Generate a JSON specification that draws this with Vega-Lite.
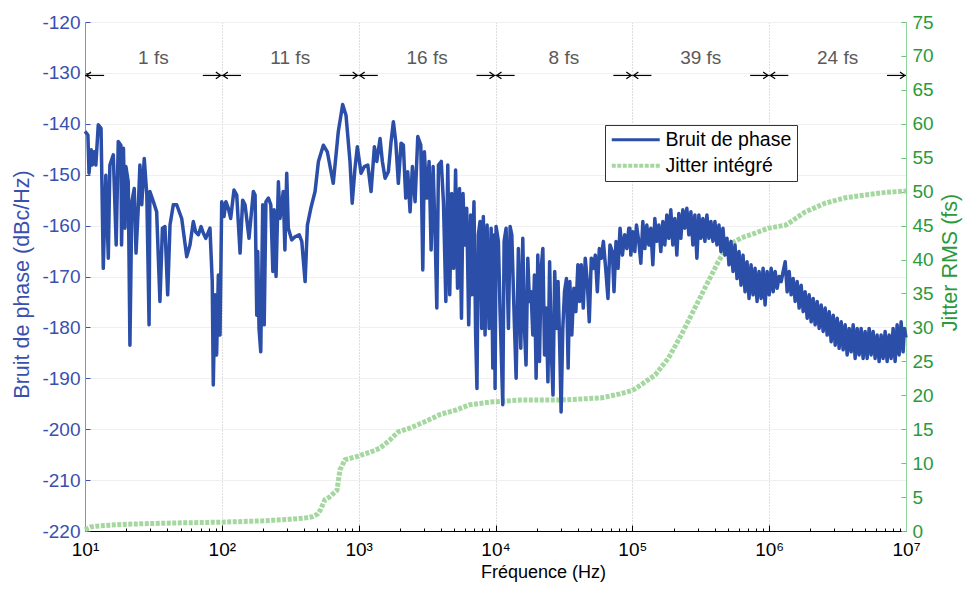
{
  "$schema": "https://vega.github.io/schema/vega-lite/v6.json",
  "width": 821,
  "height": 509,
  "autosize": {"type": "none"},
  "padding": {"left": 85, "top": 22, "right": 57, "bottom": 59},
  "background": "white",
  "config": {
    "font": "Liberation Sans",
    "view": {"stroke": null},
    "axis": {"titleFontWeight": "normal", "labelFontSize": 19, "titleFontSize": 21.5}
  },
  "datasets": {
    "bruit": [
      {"f":10,"v":-141.5},{"f":10.5,"v":-142.2},{"f":10.7,"v":-149.7},{"f":11.1,"v":-145.1},{"f":11.3,"v":-148.1},{"f":11.7,"v":-145.5},{"f":12.0,"v":-148.1},{"f":12.5,"v":-140.2},{"f":13.1,"v":-140.9},{"f":13.6,"v":-168.4},{"f":14.2,"v":-150.1},{"f":14.8,"v":-166.4},{"f":15.2,"v":-148.1},{"f":16.1,"v":-146.1},{"f":16.9,"v":-163.8},{"f":17.5,"v":-143.5},{"f":18.3,"v":-144.2},{"f":18.5,"v":-163.8},{"f":19.1,"v":-144.8},{"f":19.6,"v":-160.5},{"f":19.9,"v":-148.4},{"f":20.7,"v":-151.4},{"f":21.3,"v":-183.5},{"f":22.0,"v":-155.3},{"f":22.9,"v":-152.7},{"f":23.6,"v":-165.4},{"f":24.5,"v":-156.6},{"f":25.2,"v":-148.1},{"f":26.0,"v":-155.9},{"f":27.1,"v":-146.8},{"f":28.3,"v":-154.0},{"f":29.4,"v":-179.5},{"f":29.8,"v":-153.3},{"f":31.6,"v":-155.3},{"f":33.4,"v":-157.3},{"f":35.3,"v":-174.9},{"f":36.8,"v":-160.5},{"f":38.4,"v":-160.2},{"f":40.2,"v":-173.6},{"f":41.8,"v":-159.9},{"f":44.2,"v":-155.9},{"f":46.8,"v":-155.9},{"f":50.9,"v":-158.6},{"f":55.4,"v":-166.1},{"f":58.5,"v":-163.8},{"f":61.9,"v":-159.2},{"f":64.3,"v":-161.2},{"f":67.4,"v":-161.8},{"f":70.5,"v":-160.2},{"f":73.3,"v":-161.5},{"f":76.3,"v":-162.5},{"f":81.9,"v":-160.5},{"f":85.1,"v":-171.0},{"f":86.6,"v":-191.3},{"f":89.1,"v":-173.6},{"f":91.6,"v":-185.4},{"f":94.3,"v":-169.7},{"f":97,"v":-181.5},{"f":99.8,"v":-155.3},
      {"f":101.5,"v":-155.9},{"f":103.8,"v":-158.2},{"f":107,"v":-155.3},{"f":111.6,"v":-156.6},{"f":116,"v":-158.6},{"f":122.7,"v":-153.0},{"f":128.5,"v":-154.0},{"f":135.9,"v":-165.4},{"f":142,"v":-155.0},{"f":147.8,"v":-155.9},{"f":158,"v":-162.5},{"f":170,"v":-153.3},{"f":175,"v":-154.0},{"f":180,"v":-177.6},{"f":183,"v":-165.1},{"f":187,"v":-180.2},{"f":192.5,"v":-184.8},{"f":199,"v":-155.9},{"f":204,"v":-179.5},{"f":210,"v":-155.3},{"f":219,"v":-154.6},{"f":228,"v":-155.9},{"f":236,"v":-169.0},{"f":241,"v":-156.9},{"f":249,"v":-170.0},{"f":259,"v":-151.4},{"f":266,"v":-158.6},{"f":274,"v":-155.9},{"f":281,"v":-153.3},{"f":289,"v":-164.8},{"f":298,"v":-149.7},{"f":306,"v":-160.5},{"f":324,"v":-162.8},{"f":343,"v":-162.2},{"f":368,"v":-161.8},{"f":384,"v":-163.1},{"f":406,"v":-171.0},{"f":422,"v":-159.9},{"f":447,"v":-156.6},{"f":480,"v":-153.3},{"f":508,"v":-147.4},{"f":552,"v":-144.2},{"f":590,"v":-145.5},{"f":652,"v":-151.7},{"f":710,"v":-141.5},{"f":764,"v":-136.2},{"f":808,"v":-138.3},{"f":864,"v":-147.4},{"f":897,"v":-155.6},{"f":940,"v":-148.7},{"f":978,"v":-144.5},
      {"f":1041,"v":-149.7},{"f":1100,"v":-148.4},{"f":1166,"v":-148.1},{"f":1232,"v":-153.3},{"f":1303,"v":-144.5},{"f":1356,"v":-147.4},{"f":1434,"v":-142.9},{"f":1490,"v":-147.4},{"f":1560,"v":-150.7},{"f":1649,"v":-149.4},{"f":1725,"v":-143.5},{"f":1793,"v":-139.6},{"f":1867,"v":-143.5},{"f":1950,"v":-151.7},{"f":2041,"v":-143.8},{"f":2121,"v":-144.2},{"f":2208,"v":-154.6},{"f":2283,"v":-149.4},{"f":2375,"v":-157.3},{"f":2470,"v":-148.4},{"f":2584,"v":-155.3},{"f":2704,"v":-142.5},{"f":2845,"v":-144.2},{"f":2942,"v":-168.7},{"f":3022,"v":-145.5},{"f":3146,"v":-154.6},{"f":3271,"v":-147.4},{"f":3384,"v":-164.8},{"f":3500,"v":-148.4},{"f":3621,"v":-161.8},{"f":3725,"v":-176.2},{"f":3830,"v":-148.1},{"f":4012,"v":-147.4},{"f":4168,"v":-155.6},{"f":4336,"v":-174.9},{"f":4480,"v":-148.1},{"f":4630,"v":-173.6},{"f":4784,"v":-153.7},{"f":4943,"v":-168.4},{"f":5110,"v":-149.1},{"f":5281,"v":-172.3},{"f":5457,"v":-152.7},{"f":5640,"v":-178.2},{"f":5790,"v":-153.7},{"f":5960,"v":-163.8},{"f":6160,"v":-156.6},{"f":6370,"v":-179.5},{"f":6580,"v":-157.9},{"f":6730,"v":-173.6},{"f":6960,"v":-155.3},{"f":7160,"v":-181.5},{"f":7320,"v":-192.0},{"f":7490,"v":-161.8},{"f":7710,"v":-159.2},{"f":7930,"v":-180.2},{"f":8150,"v":-158.2},{"f":8390,"v":-181.5},{"f":8680,"v":-159.9},{"f":8980,"v":-180.2},{"f":9290,"v":-160.5},{"f":9560,"v":-188.0},{"f":9820,"v":-161.8},
      {"f":9930,"v":-192.0},{"f":10100,"v":-160.2},{"f":10500,"v":-163.1},{"f":10800,"v":-176.9},{"f":11300,"v":-195.2},{"f":11560,"v":-163.1},{"f":11950,"v":-160.5},{"f":12430,"v":-180.2},{"f":12790,"v":-160.2},{"f":13160,"v":-161.8},{"f":13680,"v":-177.6},{"f":14150,"v":-190.0},{"f":14700,"v":-164.5},{"f":15300,"v":-184.1},{"f":15830,"v":-162.5},{"f":16270,"v":-180.2},{"f":16720,"v":-187.4},{"f":17220,"v":-166.4},{"f":17700,"v":-174.9},{"f":18200,"v":-173.0},{"f":18730,"v":-181.5},{"f":19250,"v":-169.7},{"f":19810,"v":-190.0},{"f":20380,"v":-165.8},{"f":20960,"v":-186.7},{"f":21560,"v":-168.4},{"f":22190,"v":-164.5},{"f":22830,"v":-185.4},{"f":23490,"v":-176.2},{"f":24160,"v":-190.7},{"f":24860,"v":-167.1},{"f":25580,"v":-184.8},{"f":26320,"v":-193.3},{"f":27080,"v":-169.0},{"f":27860,"v":-180.2},{"f":28660,"v":-171.0},{"f":29490,"v":-184.1},{"f":30160,"v":-196.6},{"f":31030,"v":-180.2},{"f":31930,"v":-173.0},{"f":33000,"v":-170.4},{"f":33950,"v":-188.0},{"f":34930,"v":-171.0},{"f":36120,"v":-181.5},{"f":37370,"v":-172.3},{"f":38670,"v":-176.9},{"f":40000,"v":-167.7},{"f":41140,"v":-174.9},{"f":42320,"v":-167.7},{"f":43780,"v":-176.2},{"f":45280,"v":-166.4},{"f":46840,"v":-171.0},{"f":48450,"v":-178.9},{"f":50120,"v":-166.4},{"f":51850,"v":-168.4},{"f":53640,"v":-165.8},{"f":55490,"v":-173.0},{"f":57400,"v":-164.5},{"f":59380,"v":-166.4},{"f":61430,"v":-163.1},{"f":63840,"v":-168.4},{"f":66350,"v":-174.3},{"f":68630,"v":-163.8},{"f":71430,"v":-165.1},{"f":73470,"v":-173.0},{"f":76000,"v":-163.1},{"f":78630,"v":-168.4},{"f":81330,"v":-160.5},{"f":84670,"v":-165.8},{"f":87960,"v":-161.8},{"f":91170,"v":-164.5},{"f":94260,"v":-160.5},
      {"f":95900,"v":-160.5},{"f":97500,"v":-165.8},{"f":100800,"v":-161.2},{"f":104300,"v":-165.1},{"f":107200,"v":-159.9},{"f":111500,"v":-163.1},{"f":115400,"v":-167.4},{"f":119300,"v":-159.2},{"f":123400,"v":-164.5},{"f":127600,"v":-159.9},{"f":132000,"v":-163.8},{"f":136500,"v":-160.5},{"f":141200,"v":-167.7},{"f":146000,"v":-158.6},{"f":151000,"v":-163.1},{"f":156200,"v":-159.9},{"f":161500,"v":-165.1},{"f":167100,"v":-159.2},{"f":172800,"v":-163.8},{"f":178700,"v":-157.9},{"f":184800,"v":-162.5},{"f":191100,"v":-156.9},{"f":197700,"v":-163.8},{"f":204400,"v":-158.6},{"f":211500,"v":-165.8},{"f":218700,"v":-157.6},{"f":226200,"v":-162.5},{"f":234000,"v":-156.9},{"f":242000,"v":-160.5},{"f":250300,"v":-156.6},{"f":258900,"v":-161.8},{"f":267800,"v":-157.3},{"f":277000,"v":-163.8},{"f":286500,"v":-157.9},{"f":296300,"v":-166.4},{"f":306500,"v":-157.9},{"f":317000,"v":-162.5},{"f":327900,"v":-158.6},{"f":339200,"v":-163.1},{"f":350800,"v":-157.9},{"f":362800,"v":-162.5},{"f":375300,"v":-159.2},{"f":388200,"v":-163.1},{"f":401500,"v":-159.2},{"f":415300,"v":-163.8},{"f":429600,"v":-159.9},{"f":444300,"v":-165.1},{"f":459600,"v":-160.5},{"f":475400,"v":-165.8},{"f":491700,"v":-162.5},{"f":508600,"v":-167.7},{"f":526000,"v":-163.1},{"f":544100,"v":-169.0},{"f":562800,"v":-163.8},{"f":582100,"v":-170.4},{"f":602100,"v":-165.1},{"f":622700,"v":-171.7},{"f":644100,"v":-165.8},{"f":666200,"v":-173.0},{"f":689100,"v":-167.1},{"f":712700,"v":-174.3},{"f":737200,"v":-167.7},{"f":762500,"v":-173.6},{"f":788700,"v":-168.4},{"f":815800,"v":-174.9},{"f":843800,"v":-169.0},{"f":872700,"v":-174.3},{"f":902700,"v":-168.4},{"f":933700,"v":-175.6},{"f":965700,"v":-169.0},
      {"f":1000000,"v":-173.6},{"f":1034000,"v":-168.4},{"f":1070000,"v":-173.0},{"f":1106000,"v":-169.0},{"f":1144000,"v":-172.3},{"f":1183000,"v":-170.0},{"f":1224000,"v":-171.0},{"f":1266000,"v":-169.0},{"f":1309000,"v":-167.1},{"f":1354000,"v":-173.0},{"f":1400000,"v":-169.0},{"f":1448000,"v":-173.6},{"f":1498000,"v":-170.4},{"f":1549000,"v":-174.9},{"f":1602000,"v":-171.0},{"f":1656000,"v":-176.2},{"f":1713000,"v":-171.7},{"f":1772000,"v":-176.9},{"f":1832000,"v":-173.0},{"f":1895000,"v":-178.2},{"f":1960000,"v":-173.6},{"f":2027000,"v":-178.9},{"f":2096000,"v":-174.3},{"f":2168000,"v":-179.5},{"f":2242000,"v":-174.9},{"f":2319000,"v":-180.2},{"f":2398000,"v":-175.6},{"f":2480000,"v":-180.8},{"f":2565000,"v":-176.2},{"f":2653000,"v":-181.5},{"f":2745000,"v":-176.9},{"f":2838000,"v":-182.8},{"f":2937000,"v":-177.6},{"f":3037000,"v":-183.5},{"f":3141000,"v":-178.2},{"f":3246000,"v":-184.1},{"f":3359000,"v":-178.9},{"f":3473000,"v":-184.4},{"f":3592000,"v":-179.5},{"f":3715000,"v":-185.4},{"f":3841000,"v":-180.2},{"f":3973000,"v":-184.8},{"f":4109000,"v":-179.5},{"f":4250000,"v":-186.1},{"f":4395000,"v":-180.2},{"f":4544000,"v":-185.4},{"f":4699000,"v":-180.2},{"f":4860000,"v":-186.1},{"f":5027000,"v":-180.8},{"f":5199000,"v":-186.1},{"f":5377000,"v":-180.2},{"f":5561000,"v":-185.4},{"f":5751000,"v":-180.8},{"f":5947000,"v":-186.1},{"f":6151000,"v":-181.5},{"f":6362000,"v":-186.7},{"f":6579000,"v":-181.5},{"f":6804000,"v":-186.1},{"f":7037000,"v":-180.8},{"f":7277000,"v":-186.7},{"f":7527000,"v":-181.5},{"f":7785000,"v":-186.1},{"f":8051000,"v":-180.2},{"f":8326000,"v":-186.7},{"f":8611000,"v":-179.5},{"f":8906000,"v":-185.4},{"f":9211000,"v":-178.9},{"f":9526000,"v":-184.8},{"f":9730000,"v":-180.2},{"f":10000000,"v":-182.0}
    ],
    "jitter": [
      {"f":10,"j":0.2},{"f":11,"j":0.6},{"f":12,"j":0.7},{"f":15,"j":0.85},{"f":20,"j":1.0},{"f":30,"j":1.1},{"f":50,"j":1.2},{"f":100,"j":1.3},{"f":200,"j":1.5},{"f":300,"j":1.7},{"f":400,"j":1.9},{"f":457,"j":2.1},{"f":500,"j":2.5},{"f":525,"j":3.1},{"f":566,"j":4.6},{"f":612,"j":5.0},{"f":694,"j":6.0},{"f":730,"j":9.0},{"f":794,"j":10.5},{"f":940,"j":10.9},{"f":1210,"j":11.6},{"f":1430,"j":12.2},{"f":1690,"j":13.4},{"f":1940,"j":14.6},{"f":2390,"j":15.2},{"f":3040,"j":16.1},{"f":3980,"j":17.2},{"f":5100,"j":17.8},{"f":6470,"j":18.6},{"f":9100,"j":19.0},{"f":15100,"j":19.3},{"f":30000,"j":19.3},{"f":58800,"j":19.6},{"f":81000,"j":20.2},{"f":100000,"j":20.7},{"f":115000,"j":21.5},{"f":147000,"j":23.0},{"f":184000,"j":25.5},{"f":228000,"j":28.9},{"f":287000,"j":32.9},{"f":357000,"j":36.7},{"f":423000,"j":39.6},{"f":500000,"j":42.1},{"f":627000,"j":43.2},{"f":790000,"j":43.9},{"f":980000,"j":44.6},{"f":1330000,"j":45.1},{"f":1830000,"j":47.0},{"f":2560000,"j":48.3},{"f":3600000,"j":49.1},{"f":5000000,"j":49.5},{"f":7100000,"j":49.9},{"f":10000000,"j":50.1}
    ],
    "arrows": [
      {"f":13.8,"f2":10,"v":-130.5,"dir":"l"},
      {"f":72.6,"f2":100,"v":-130.5,"dir":"r"},{"f":138,"f2":100,"v":-130.5,"dir":"l"},
      {"f":726,"f2":1000,"v":-130.5,"dir":"r"},{"f":1380,"f2":1000,"v":-130.5,"dir":"l"},
      {"f":7260,"f2":10000,"v":-130.5,"dir":"r"},{"f":13800,"f2":10000,"v":-130.5,"dir":"l"},
      {"f":72600,"f2":100000,"v":-130.5,"dir":"r"},{"f":138000,"f2":100000,"v":-130.5,"dir":"l"},
      {"f":726000,"f2":1000000,"v":-130.5,"dir":"r"},{"f":1380000,"f2":1000000,"v":-130.5,"dir":"l"},
      {"f":7260000,"f2":10000000,"v":-130.5,"dir":"r"}
    ],
    "labels": [
      {"f":31.62,"v":-127,"label":"1 fs"},
      {"f":316.2,"v":-127,"label":"11 fs"},
      {"f":3162,"v":-127,"label":"16 fs"},
      {"f":31620,"v":-127,"label":"8 fs"},
      {"f":316200,"v":-127,"label":"39 fs"},
      {"f":3162000,"v":-127,"label":"24 fs"}
    ]
  },
  "layer": [
    {
      "data": {"name": "jitter"},
      "mark": {"type": "line", "strokeWidth": 5, "strokeDash": [4, 1.5], "strokeJoin": "round"},
      "encoding": {
        "x": {
          "field": "f", "type": "quantitative",
          "scale": {"type": "log", "domain": [10, 10000000], "nice": false},
          "axis": {
            "orient": "bottom", "title": null, "labels": false, "domain": false, "grid": false,
            "tickSize": -3, "tickColor": "#000000",
            "values": [20,30,40,50,60,70,80,90,200,300,400,500,600,700,800,900,2000,3000,4000,5000,6000,7000,8000,9000,20000,30000,40000,50000,60000,70000,80000,90000,200000,300000,400000,500000,600000,700000,800000,900000,2000000,3000000,4000000,5000000,6000000,7000000,8000000,9000000]
          }
        },
        "y": {
          "field": "j", "type": "quantitative",
          "scale": {"domain": [0, 75], "nice": false},
          "axis": {
            "orient": "right", "title": "Jitter RMS (fs)", "titleAngle": 270, "titleBaseline": "top",
            "titleColor": "#2a9a3c", "titlePadding": 6, "titleY": 240,
            "values": [0,5,10,15,20,25,30,35,40,45,50,55,60,65,70,75],
            "labelColor": "#2a9a3c", "domainColor": "#8fd49a", "tickColor": "#6cc07a",
            "tickSize": -5, "labelPadding": 11, "grid": false
          }
        },
        "color": {
          "datum": "Jitter intégré", "type": "nominal",
          "scale": {"domain": ["Bruit de phase", "Jitter intégré"], "range": ["#2b4ea8", "#a5d8a0"]}
        }
      }
    },
    {
      "layer": [
        {
          "data": {"name": "bruit"},
          "mark": {"type": "line", "strokeWidth": 3.5, "strokeJoin": "round"},
          "encoding": {
            "x": {
              "field": "f", "type": "quantitative",
              "scale": {"type": "log", "domain": [10, 10000000], "nice": false},
              "axis": {
                "orient": "bottom", "title": "Fréquence (Hz)", "titleColor": "#000000", "titlePadding": 4,
                "titleFontSize": 18, "titleX": 458,
                "values": [10,100,1000,10000,100000,1000000,10000000],
                "labelExpr": "'10' + ['⁰','¹','²','³','⁴','⁵','⁶','⁷'][round(log(datum.value)/LN10)]",
                "labelFlush": false, "labelColor": "#000000", "labelPadding": 15,
                "tickSize": -6, "tickColor": "#000000", "domainColor": "#000000",
                "grid": true, "gridColor": "#bdbdbd", "gridDash": [1, 2]
              }
            },
            "y": {
              "field": "v", "type": "quantitative",
              "scale": {"domain": [-220, -120], "nice": false, "zero": false},
              "axis": {
                "orient": "left", "title": "Bruit de phase (dBc/Hz)", "titleColor": "#3a4fb0", "titlePadding": 8,
                "titleY": 262,
                "values": [-220,-210,-200,-190,-180,-170,-160,-150,-140,-130,-120],
                "labelExpr": "datum.value < 0 ? '-' + abs(datum.value) : '' + datum.value",
                "labelColor": "#3a4fb0", "domainColor": "#7f8fd6", "tickColor": "#3a4fb0",
                "tickSize": -5, "labelPadding": 10,
                "grid": true, "gridColor": "#f0f0f0"
              }
            },
            "color": {
              "datum": "Bruit de phase", "type": "nominal",
              "scale": {"domain": ["Bruit de phase", "Jitter intégré"], "range": ["#2b4ea8", "#a5d8a0"]},
              "legend": {
                "orient": "none", "legendX": 520, "legendY": 103, "title": null,
                "symbolType": "M-1,0H5", "symbolSize": 256, "symbolStrokeWidth": 3,
                "labelFontSize": 19.5, "labelColor": "#000000", "labelOffset": 36, "labelLimit": 300,
                "padding": 5, "rowPadding": 5, "strokeColor": "#333333", "fillColor": "#ffffff",
                "encode": {
                  "symbols": {
                    "update": {
                      "strokeDash": {"signal": "datum.value === 'Jitter intégré' ? [4, 1.5] : [1, 0]"},
                      "strokeWidth": {"signal": "datum.value === 'Jitter intégré' ? 4 : 3"}
                    }
                  }
                }
              }
            }
          }
        },
        {
          "data": {"name": "arrows"},
          "mark": {"type": "rule", "color": "#000000", "strokeWidth": 1.2},
          "encoding": {
            "x": {"field": "f", "type": "quantitative"},
            "x2": {"field": "f2"},
            "y": {"field": "v", "type": "quantitative"}
          }
        },
        {
          "data": {"name": "arrows"},
          "mark": {"type": "point", "filled": false, "stroke": "#000000", "strokeWidth": 1.2, "size": 64, "opacity": 1},
          "encoding": {
            "x": {"field": "f2", "type": "quantitative"},
            "y": {"field": "v", "type": "quantitative"},
            "shape": {
              "field": "dir", "type": "nominal",
              "scale": {"domain": ["r", "l"], "range": ["M-1.5,-0.85L-0.3,0L-1.5,0.85", "M1.5,-0.85L0.3,0L1.5,0.85"]},
              "legend": null
            }
          }
        },
        {
          "data": {"name": "labels"},
          "mark": {"type": "text", "fontSize": 19, "color": "#5a5a5a", "baseline": "middle", "align": "center"},
          "encoding": {
            "x": {"field": "f", "type": "quantitative"},
            "y": {"field": "v", "type": "quantitative"},
            "text": {"field": "label"}
          }
        }
      ]
    }
  ],
  "resolve": {"scale": {"y": "independent"}, "axis": {"x": "independent"}}
}
